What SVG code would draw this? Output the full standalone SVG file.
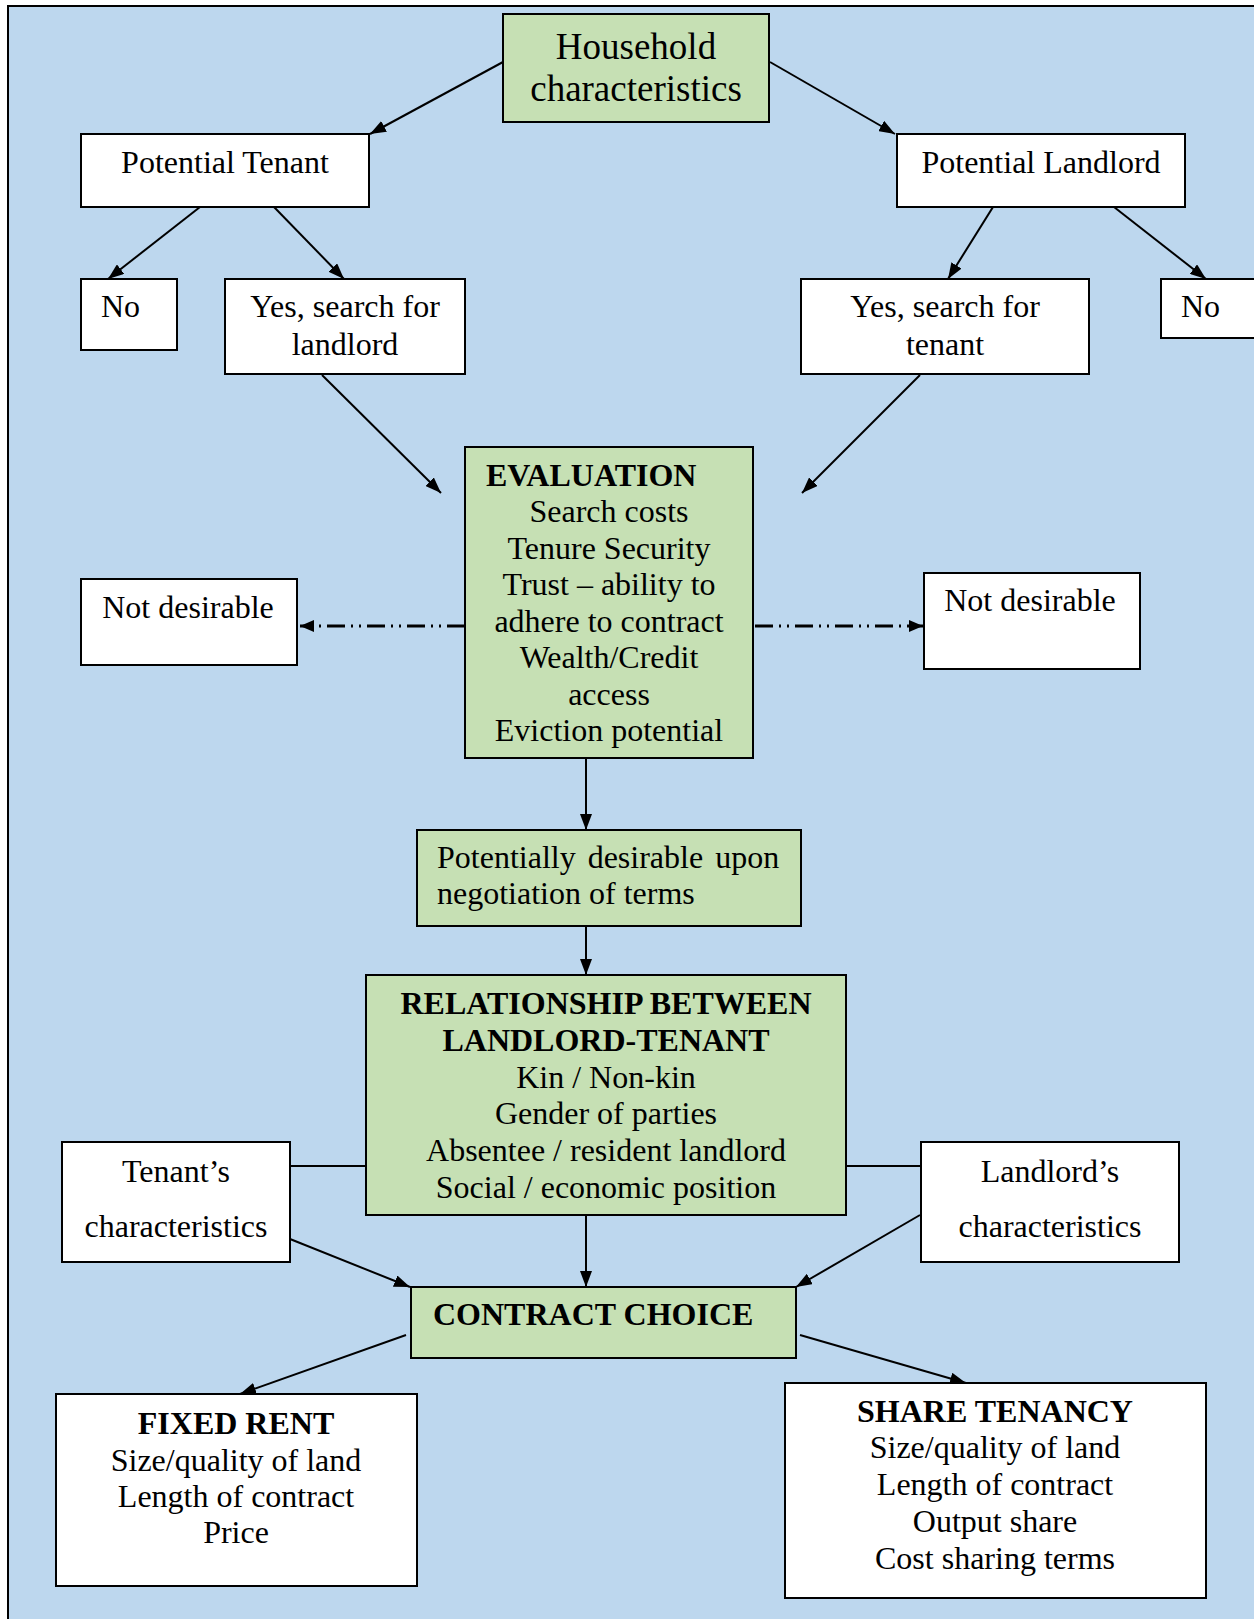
<svg xmlns="http://www.w3.org/2000/svg" width="1254" height="1619" viewBox="0 0 1254 1619">
<defs>
<marker id="ah" viewBox="0 0 16 12" refX="16" refY="6" markerWidth="16" markerHeight="12" markerUnits="userSpaceOnUse" orient="auto">
<path d="M0,0 L16,6 L0,12 Z" fill="#000"/>
</marker>
<marker id="ahs" viewBox="0 0 14 12" refX="14" refY="6" markerWidth="14" markerHeight="12" markerUnits="userSpaceOnUse" orient="auto">
<path d="M0,0 L14,6 L0,12 Z" fill="#000"/>
</marker>
</defs>
<style>
.box{stroke:#000;stroke-width:2}
.g{fill:#C6E0B4}
.w{fill:#FFFFFF}
text{font-family:"Liberation Serif","Times New Roman",serif;font-size:32px;fill:#000}
.c{text-anchor:middle}
.b{font-weight:bold}
.big{font-size:37px}
.ln{stroke:#000;stroke-width:2;fill:none}
.dd{stroke:#000;stroke-width:3;fill:none;stroke-dasharray:18 6 2 6 2 6}
</style>
<rect x="0" y="0" width="1254" height="1619" fill="#FFFFFF"/>
<rect x="8" y="6" width="1262" height="1640" fill="#BDD7EE" stroke="#000" stroke-width="2"/>

<g id="connectors">
<line class="ln" x1="503" y1="62" x2="370" y2="134" marker-end="url(#ah)"/>
<line class="ln" x1="770" y1="62" x2="895" y2="134" marker-end="url(#ah)"/>
<line class="ln" x1="200" y1="207" x2="108" y2="279" marker-end="url(#ah)"/>
<line class="ln" x1="274" y1="207" x2="344" y2="279" marker-end="url(#ah)"/>
<line class="ln" x1="993" y1="207" x2="948" y2="279" marker-end="url(#ah)"/>
<line class="ln" x1="1114" y1="207" x2="1206" y2="279" marker-end="url(#ah)"/>
<line class="ln" x1="322" y1="375" x2="441" y2="493" marker-end="url(#ah)"/>
<line class="ln" x1="920" y1="375" x2="802" y2="493" marker-end="url(#ah)"/>
<line class="dd" x1="465" y1="626" x2="300" y2="626" marker-end="url(#ahs)"/>
<line class="dd" x1="755" y1="626" x2="923" y2="626" marker-end="url(#ahs)"/>
<line class="ln" x1="586" y1="758" x2="586" y2="830" marker-end="url(#ah)"/>
<line class="ln" x1="586" y1="926" x2="586" y2="975" marker-end="url(#ah)"/>
<line class="ln" x1="290" y1="1166" x2="366" y2="1166"/>
<line class="ln" x1="846" y1="1166" x2="921" y2="1166"/>
<line class="ln" x1="586" y1="1215" x2="586" y2="1287" marker-end="url(#ah)"/>
<line class="ln" x1="290" y1="1239" x2="410" y2="1287" marker-end="url(#ah)"/>
<line class="ln" x1="920" y1="1215" x2="796" y2="1287" marker-end="url(#ah)"/>
<line class="ln" x1="406" y1="1335" x2="240" y2="1394" marker-end="url(#ah)"/>
<line class="ln" x1="800" y1="1335" x2="966" y2="1383" marker-end="url(#ah)"/>
</g>

<g id="household">
<rect class="box g" x="503" y="14" width="266" height="108"/>
<text class="c big" x="636" y="59">Household</text>
<text class="c big" x="636" y="101">characteristics</text>
</g>
<g id="potential-tenant">
<rect class="box w" x="81" y="134" width="288" height="73"/>
<text class="c" x="225" y="173">Potential Tenant</text>
</g>
<g id="potential-landlord">
<rect class="box w" x="897" y="134" width="288" height="73"/>
<text class="c" x="1041" y="173">Potential Landlord</text>
</g>
<g id="no-left">
<rect class="box w" x="81" y="279" width="96" height="71"/>
<text x="101" y="317">No</text>
</g>
<g id="yes-landlord">
<rect class="box w" x="225" y="279" width="240" height="95"/>
<text class="c" x="345" y="317">Yes, search for</text>
<text class="c" x="345" y="355">landlord</text>
</g>
<g id="yes-tenant">
<rect class="box w" x="801" y="279" width="288" height="95"/>
<text class="c" x="945" y="317">Yes, search for</text>
<text class="c" x="945" y="355">tenant</text>
</g>
<g id="no-right">
<rect class="box w" x="1161" y="279" width="110" height="59"/>
<text x="1181" y="317">No</text>
</g>
<g id="evaluation">
<rect class="box g" x="465" y="447" width="288" height="311"/>
<text class="b" x="486" y="486">EVALUATION</text>
<text class="c" x="609" y="522">Search costs</text>
<text class="c" x="609" y="559">Tenure Security</text>
<text class="c" x="609" y="595">Trust – ability to</text>
<text class="c" x="609" y="632">adhere to contract</text>
<text class="c" x="609" y="668">Wealth/Credit</text>
<text class="c" x="609" y="705">access</text>
<text class="c" x="609" y="741">Eviction potential</text>
</g>
<g id="not-desirable-left">
<rect class="box w" x="81" y="579" width="216" height="86"/>
<text class="c" x="188" y="618">Not desirable</text>
</g>
<g id="not-desirable-right">
<rect class="box w" x="924" y="573" width="216" height="96"/>
<text class="c" x="1030" y="611">Not desirable</text>
</g>
<g id="potentially-desirable">
<rect class="box g" x="417" y="830" width="384" height="96"/>
<text x="437" y="868" word-spacing="4">Potentially desirable upon</text>
<text x="437" y="904">negotiation of terms</text>
</g>
<g id="relationship">
<rect class="box g" x="366" y="975" width="480" height="240"/>
<text class="c b" x="606" y="1014">RELATIONSHIP BETWEEN</text>
<text class="c b" x="606" y="1051">LANDLORD-TENANT</text>
<text class="c" x="606" y="1088">Kin / Non-kin</text>
<text class="c" x="606" y="1124">Gender of parties</text>
<text class="c" x="606" y="1161">Absentee / resident landlord</text>
<text class="c" x="606" y="1198">Social / economic position</text>
</g>
<g id="tenants-characteristics">
<rect class="box w" x="62" y="1142" width="228" height="120"/>
<text class="c" x="176" y="1182">Tenant’s</text>
<text class="c" x="176" y="1237">characteristics</text>
</g>
<g id="landlords-characteristics">
<rect class="box w" x="921" y="1142" width="258" height="120"/>
<text class="c" x="1050" y="1182">Landlord’s</text>
<text class="c" x="1050" y="1237">characteristics</text>
</g>
<g id="contract-choice">
<rect class="box g" x="411" y="1287" width="385" height="71"/>
<text class="b" x="433" y="1325">CONTRACT CHOICE</text>
</g>
<g id="fixed-rent">
<rect class="box w" x="56" y="1394" width="361" height="192"/>
<text class="c b" x="236" y="1434">FIXED RENT</text>
<text class="c" x="236" y="1471">Size/quality of land</text>
<text class="c" x="236" y="1507">Length of contract</text>
<text class="c" x="236" y="1543">Price</text>
</g>
<g id="share-tenancy">
<rect class="box w" x="785" y="1383" width="421" height="215"/>
<text class="c b" x="995" y="1422">SHARE TENANCY</text>
<text class="c" x="995" y="1458">Size/quality of land</text>
<text class="c" x="995" y="1495">Length of contract</text>
<text class="c" x="995" y="1532">Output share</text>
<text class="c" x="995" y="1569">Cost sharing terms</text>
</g>
</svg>
